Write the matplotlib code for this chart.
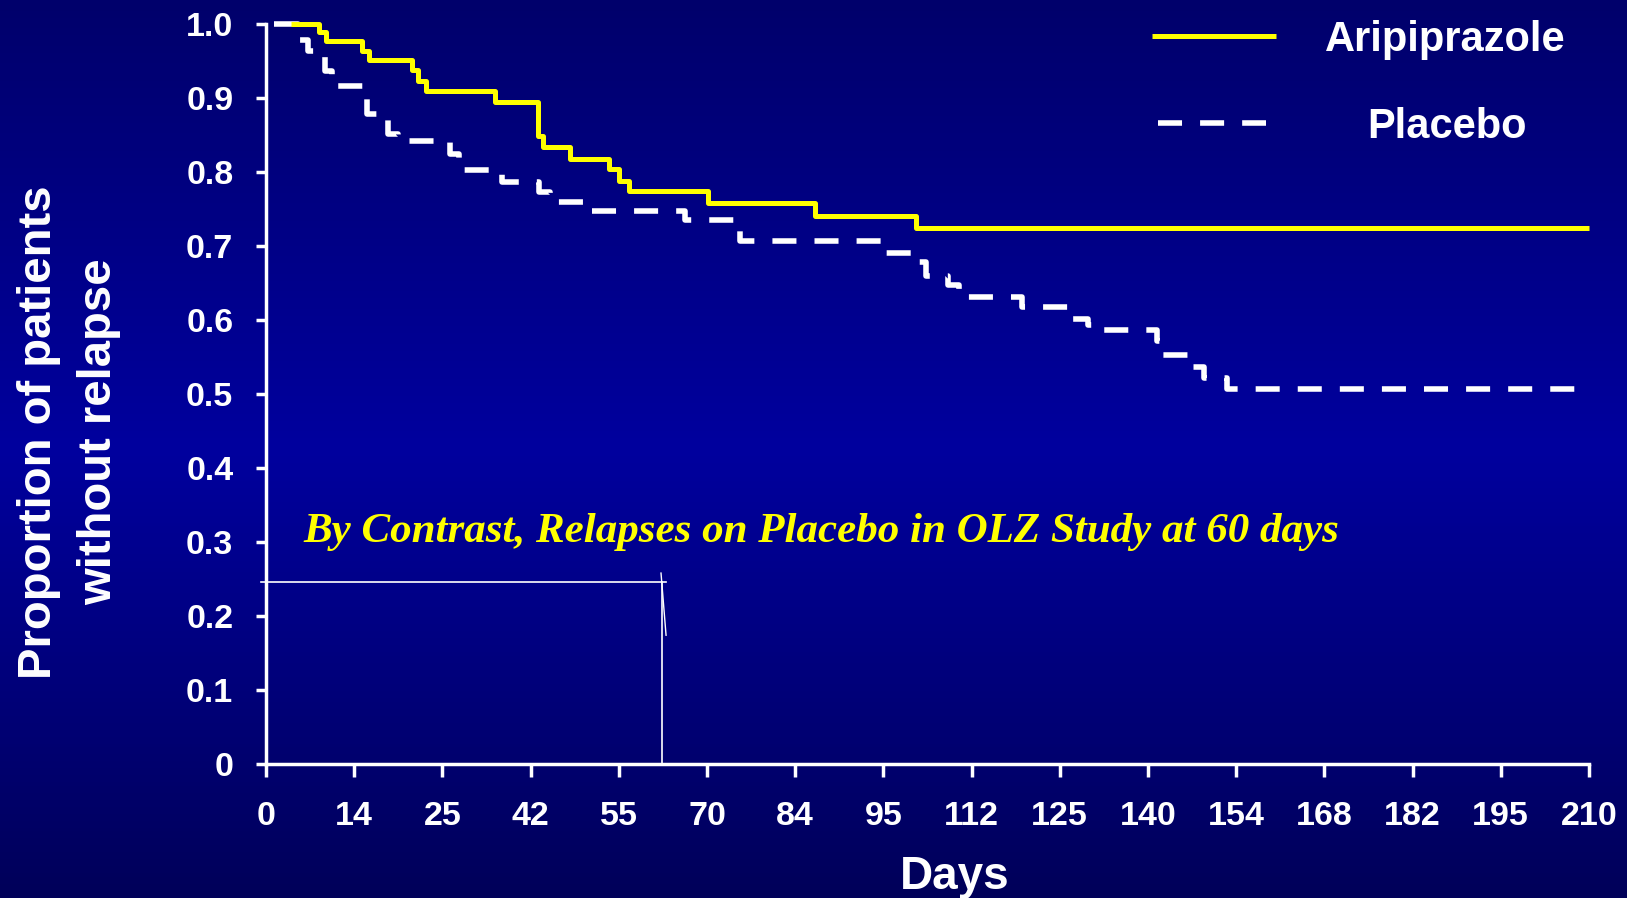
import numpy as np
import matplotlib
matplotlib.use("Agg")
import matplotlib.pyplot as plt
from matplotlib.colors import LinearSegmentedColormap

# ---------------- data ----------------
xtick_pos = [0, 14, 28, 42, 56, 70, 84, 98, 112, 126, 140, 154, 168, 182, 196, 210]
xtick_labels = ["0", "14", "25", "42", "55", "70", "84", "95", "112", "125",
                "140", "154", "168", "182", "195", "210"]
ytick_pos = [0, 0.1, 0.2, 0.3, 0.4, 0.5, 0.6, 0.7, 0.8, 0.9, 1.0]
ytick_labels = ["0", "0.1", "0.2", "0.3", "0.4", "0.5", "0.6", "0.7", "0.8", "0.9", "1.0"]

aripiprazole_days = [4, 8.4, 9.5, 15.3, 16.3, 23.2, 24.1, 25.4, 36.4, 43.2, 44.0,
                     48.3, 54.4, 56.1, 57.6, 70.2, 87.1, 103.2, 210]
aripiprazole_surv = [1.0, 0.989, 0.977, 0.964, 0.951, 0.938, 0.923, 0.909, 0.894,
                     0.848, 0.834, 0.818, 0.804, 0.788, 0.775, 0.758, 0.741, 0.724, 0.724]

placebo_days = [1.3, 5.0, 6.6, 9.4, 10.5, 16.1, 19.4, 21.0, 29.2, 30.6, 37.5, 43.3,
                45.0, 51.0, 66.5, 75.3, 97.7, 102.8, 104.8, 108.3, 110.0, 120.0,
                127.5, 130.4, 131.5, 141.4, 142.2, 146.5, 148.9, 152.6, 210]
placebo_surv = [1.0, 0.978, 0.963, 0.937, 0.916, 0.879, 0.852, 0.842, 0.825, 0.803,
                0.787, 0.773, 0.760, 0.747, 0.735, 0.707, 0.690, 0.679, 0.659, 0.647,
                0.631, 0.618, 0.602, 0.593, 0.586, 0.571, 0.553, 0.537, 0.522, 0.507, 0.507]

olz_day = 62.8
olz_level = 0.246
annotation_text = "By Contrast, Relapses on Placebo in OLZ Study at 60 days"

# ---------------- figure ----------------
plt.rcParams['font.family'] = ['Liberation Sans', 'DejaVu Sans']
plt.rcParams['lines.scale_dashes'] = False

W, H = 1627, 898
fig = plt.figure(figsize=(W / 100, H / 100), dpi=100)

# background gradient
bg = fig.add_axes([0, 0, 1, 1], zorder=-10)
cmap = LinearSegmentedColormap.from_list(
    "bgc", [(0.0, (0, 0, 0.42)), (0.5, (0, 0, 0.62)), (1.0, (0, 0, 0.35))])
grad = np.linspace(0, 1, 256).reshape(-1, 1)
bg.imshow(grad, aspect='auto', cmap=cmap, extent=[0, 1, 0, 1], origin='upper')
bg.axis('off')

left = 266 / W
bottom = 1 - 764 / H
ax = fig.add_axes([left, bottom, (1589 - 266) / W, 740 / H])
ax.set_facecolor('none')

yellow = '#FFFF00'
white = '#FFFFFF'

l1, = ax.step(aripiprazole_days, aripiprazole_surv, where='post', color=yellow,
              lw=3.6, clip_on=False, solid_capstyle='butt', label='Aripiprazole', zorder=4)
l2, = ax.step(placebo_days, placebo_surv, where='post', color=white,
              lw=4.0, clip_on=False, dash_capstyle='butt', label='Placebo', zorder=3)
l2.set_dashes((17.3, 13.0))

# OLZ study bracket
ax.plot([-0.8, olz_day + 0.7], [olz_level, olz_level], color=white, lw=1.2, clip_on=False)
ax.plot([olz_day, olz_day], [0, olz_level], color=white, lw=1.2, clip_on=False)
ax.plot([olz_day - 0.1, olz_day + 0.7], [olz_level + 0.012, olz_level - 0.072],
        color=white, lw=1.0, clip_on=False)

ax.text(6.0, 0.300, annotation_text, color=yellow, fontsize=31,
        family=['Liberation Serif', 'DejaVu Serif'], weight='bold', style='italic',
        ha='left', va='baseline')

ax.set_xlim(0, 210)
ax.set_ylim(0, 1.0)
for s in ['top', 'right']:
    ax.spines[s].set_visible(False)
for s in ['left', 'bottom']:
    ax.spines[s].set_color(white)
    ax.spines[s].set_linewidth(2.5)

ax.set_xticks(xtick_pos)
ax.set_xticklabels(xtick_labels)
ax.set_yticks(ytick_pos)
ax.set_yticklabels(ytick_labels)
ax.tick_params(axis='x', colors=white, length=9.5, width=2.5, pad=17, labelsize=24.5)
ax.tick_params(axis='y', colors=white, length=7.5, width=2.5, pad=16, labelsize=24.5)
for t in ax.get_xticklabels() + ax.get_yticklabels():
    t.set_fontweight('bold')

# legends
leg1 = ax.legend(handles=[l1], loc='center left', frameon=False,
                 bbox_to_anchor=(1152 / W, 1 - 40 / H), bbox_transform=fig.transFigure,
                 borderpad=0, borderaxespad=0, handlelength=2.98, handletextpad=1.18,
                 labelcolor=white, prop={'weight': 'bold', 'size': 30})
ax.add_artist(leg1)
leg2 = ax.legend(handles=[l2], loc='center left', frameon=False,
                 bbox_to_anchor=(1158 / W, 1 - 127 / H), bbox_transform=fig.transFigure,
                 borderpad=0, borderaxespad=0, handlelength=2.6, handletextpad=2.43,
                 labelcolor=white, prop={'weight': 'bold', 'size': 30})

fig.text(69 / W, 1 - 432 / H, "Proportion of patients\nwithout relapse", rotation=90,
         ha='center', va='center', multialignment='center', color=white,
         fontsize=34, weight='bold', linespacing=1.45)
fig.text(955 / W, 1 - 889 / H, "Days", ha='center', va='baseline', color=white,
         fontsize=33, weight='bold')

fig.savefig("out.png", dpi=100)
